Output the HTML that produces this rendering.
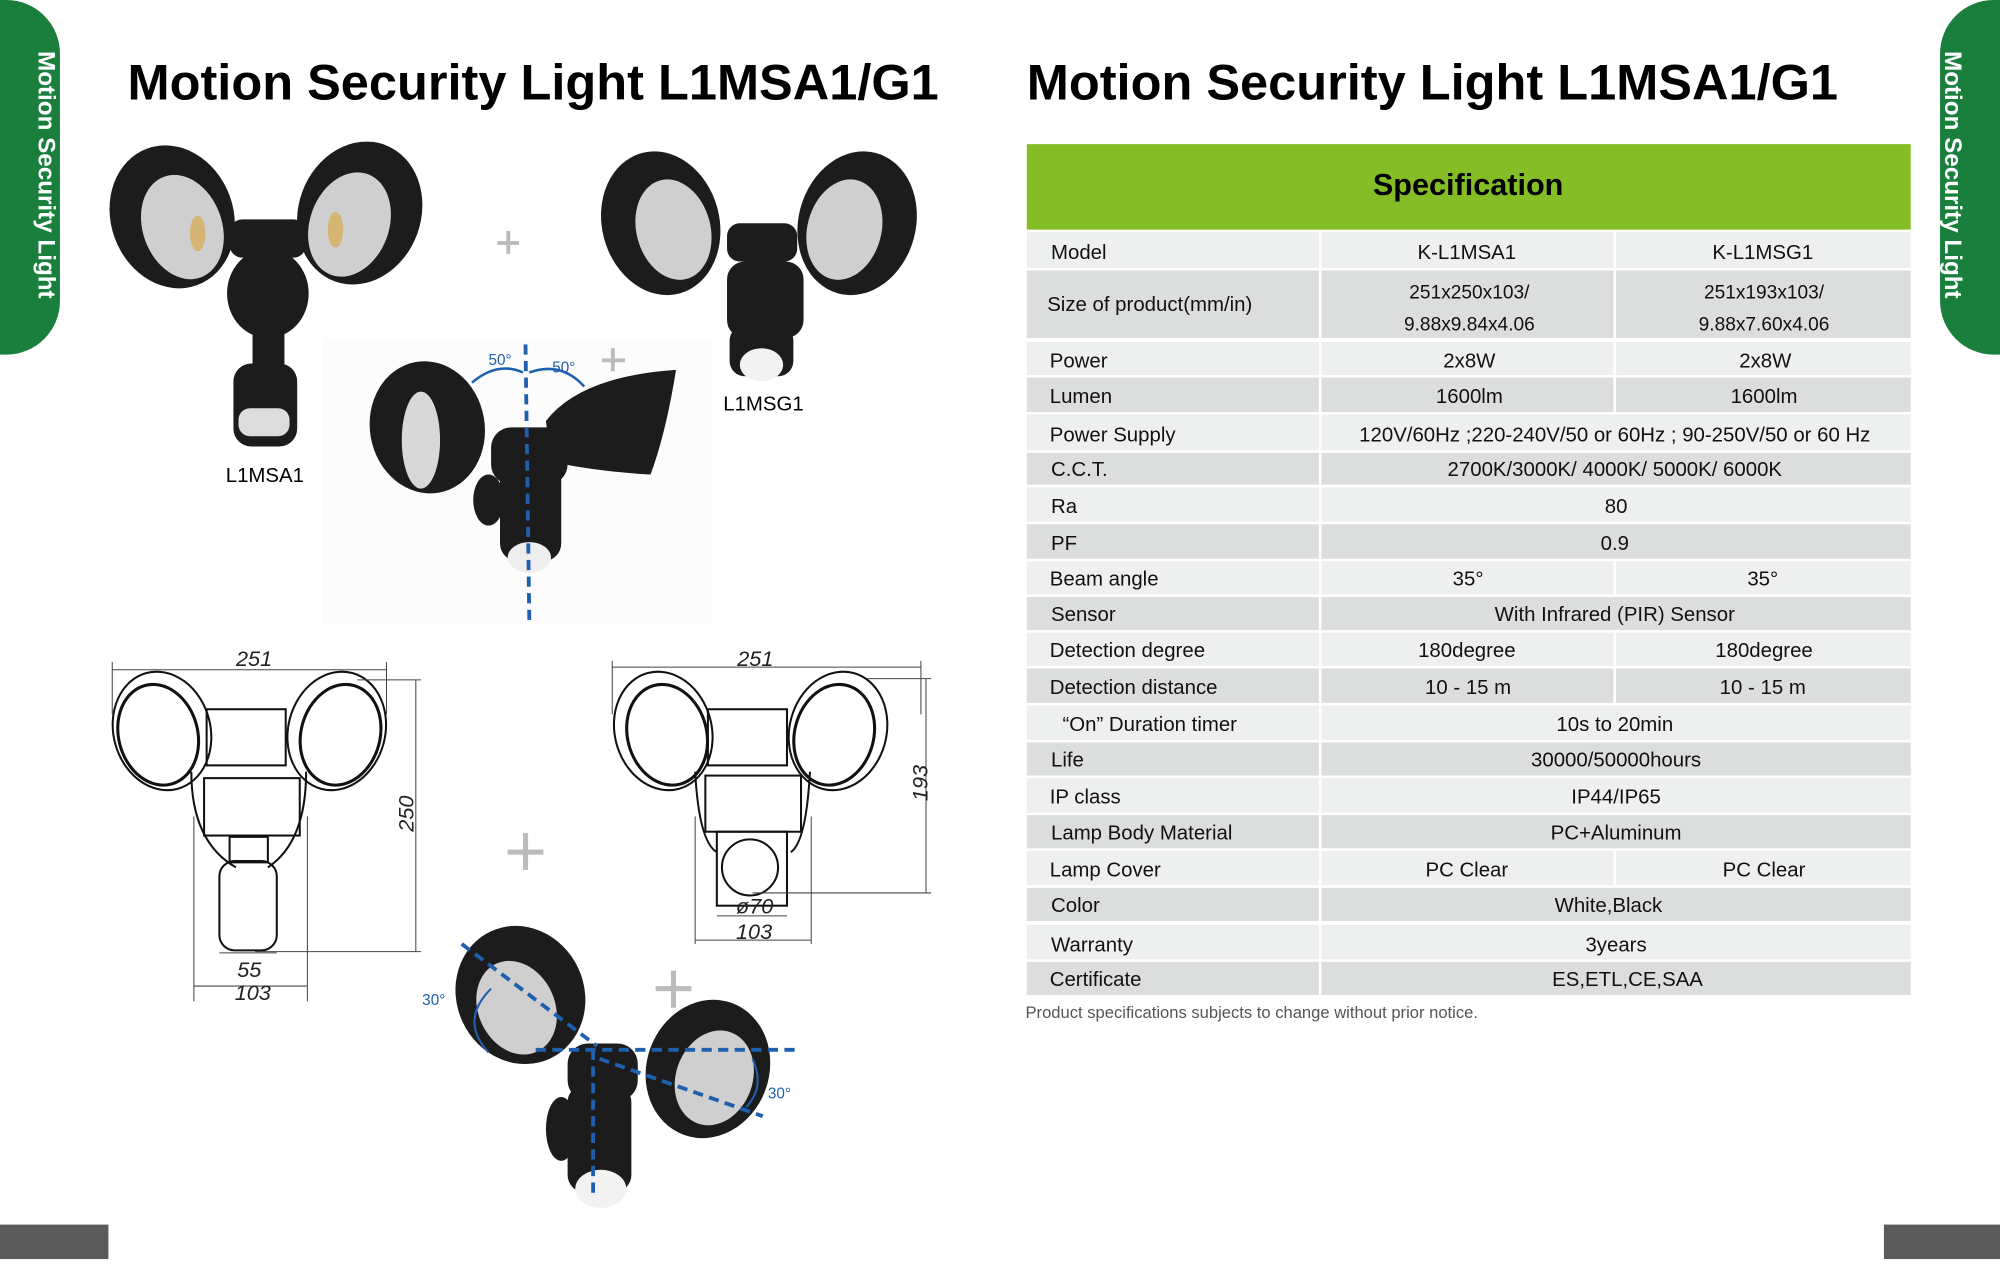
<!DOCTYPE html>
<html><head><meta charset="utf-8"><style>
html,body{margin:0;padding:0;background:#fff;width:2000px;height:1282px;overflow:hidden}
svg{display:block}
text{font-family:"Liberation Sans",Arial,sans-serif}
</style></head><body>
<svg width="2000" height="1282" viewBox="0 0 1568 1005" preserveAspectRatio="none" xmlns="http://www.w3.org/2000/svg">
<!-- side tabs -->
<path d="M0 0 H5 A42 42 0 0 1 47 42 V236 A42 42 0 0 1 5 278 H0Z" fill="#1a7f3c"/>
<text transform="translate(30,40) rotate(90)" font-size="19" font-weight="bold" fill="#fff">Motion Security Light</text>
<path d="M1568 0 H1563 A42 42 0 0 0 1521 42 V236 A42 42 0 0 0 1563 278 H1568Z" fill="#1a7f3c"/>
<text transform="translate(1525,40) rotate(90)" font-size="19" font-weight="bold" fill="#fff">Motion Security Light</text>
<rect x="0" y="960" width="85" height="27" fill="#5b5b5b"/>
<rect x="1477" y="960" width="91" height="27" fill="#5b5b5b"/>
<!-- titles -->
<text x="100" y="78" font-size="39" font-weight="bold" fill="#000" textLength="636" lengthAdjust="spacingAndGlyphs">Motion Security Light L1MSA1/G1</text>
<text x="805" y="78" font-size="39" font-weight="bold" fill="#000" textLength="636" lengthAdjust="spacingAndGlyphs">Motion Security Light L1MSA1/G1</text>

<!-- table -->
<rect x="805" y="113" width="693" height="67" fill="#84bd26"/>
<text x="1151" y="153" font-size="24" font-weight="bold" text-anchor="middle">Specification</text>
<g font-size="16" fill="#111">
<rect x="805" y="182" width="693" height="28" fill="#eeefef"/>
<rect x="805" y="212" width="693" height="53" fill="#dcdddd"/>
<rect x="805" y="268" width="693" height="26" fill="#eeefef"/>
<rect x="805" y="296" width="693" height="27" fill="#dcdddd"/>
<rect x="805" y="325" width="693" height="28" fill="#eeefef"/>
<rect x="805" y="355" width="693" height="25" fill="#dcdddd"/>
<rect x="805" y="382" width="693" height="27" fill="#eeefef"/>
<rect x="805" y="411" width="693" height="27" fill="#dcdddd"/>
<rect x="805" y="440" width="693" height="26" fill="#eeefef"/>
<rect x="805" y="468" width="693" height="26" fill="#dcdddd"/>
<rect x="805" y="496" width="693" height="26" fill="#eeefef"/>
<rect x="805" y="524" width="693" height="27" fill="#dcdddd"/>
<rect x="805" y="553" width="693" height="27" fill="#eeefef"/>
<rect x="805" y="582" width="693" height="26" fill="#dcdddd"/>
<rect x="805" y="610" width="693" height="27" fill="#eeefef"/>
<rect x="805" y="639" width="693" height="26" fill="#dcdddd"/>
<rect x="805" y="667" width="693" height="27" fill="#eeefef"/>
<rect x="805" y="696" width="693" height="26" fill="#dcdddd"/>
<rect x="805" y="725" width="693" height="27" fill="#eeefef"/>
<rect x="805" y="754" width="693" height="26" fill="#dcdddd"/>
<g stroke="#fff" stroke-width="2">
<line x1="1035" y1="182" x2="1035" y2="780"/>
<line x1="1266" y1="182" x2="1266" y2="323"/>
<line x1="1266" y1="440" x2="1266" y2="466"/>
<line x1="1266" y1="496" x2="1266" y2="551"/>
<line x1="1266" y1="667" x2="1266" y2="694"/>
</g>
<g>
<text x="824" y="203">Model</text><text x="1150" y="203" text-anchor="middle">K-L1MSA1</text><text x="1382" y="203" text-anchor="middle">K-L1MSG1</text>
<text x="821" y="244">Size of product(mm/in)</text>
<text x="1152" y="234" text-anchor="middle" font-size="15">251x250x103/</text><text x="1152" y="259" text-anchor="middle" font-size="15">9.88x9.84x4.06</text>
<text x="1383" y="234" text-anchor="middle" font-size="15">251x193x103/</text><text x="1383" y="259" text-anchor="middle" font-size="15">9.88x7.60x4.06</text>
<text x="823" y="288">Power</text><text x="1152" y="288" text-anchor="middle">2x8W</text><text x="1384" y="288" text-anchor="middle">2x8W</text>
<text x="823" y="316">Lumen</text><text x="1152" y="316" text-anchor="middle">1600lm</text><text x="1383" y="316" text-anchor="middle">1600lm</text>
<text x="823" y="346">Power Supply</text><text x="1266" y="346" text-anchor="middle">120V/60Hz ;220-240V/50 or 60Hz ; 90-250V/50 or 60 Hz</text>
<text x="824" y="373">C.C.T.</text><text x="1266" y="373" text-anchor="middle">2700K/3000K/ 4000K/ 5000K/ 6000K</text>
<text x="824" y="402">Ra</text><text x="1267" y="402" text-anchor="middle">80</text>
<text x="824" y="431">PF</text><text x="1266" y="431" text-anchor="middle">0.9</text>
<text x="823" y="459">Beam angle</text><text x="1151" y="459" text-anchor="middle">35°</text><text x="1382" y="459" text-anchor="middle">35°</text>
<text x="824" y="487">Sensor</text><text x="1266" y="487" text-anchor="middle">With Infrared (PIR) Sensor</text>
<text x="823" y="515">Detection degree</text><text x="1150" y="515" text-anchor="middle">180degree</text><text x="1383" y="515" text-anchor="middle">180degree</text>
<text x="823" y="544">Detection distance</text><text x="1151" y="544" text-anchor="middle">10 - 15 m</text><text x="1382" y="544" text-anchor="middle">10 - 15 m</text>
<text x="833" y="573">“On” Duration timer</text><text x="1266" y="573" text-anchor="middle">10s to 20min</text>
<text x="824" y="601">Life</text><text x="1267" y="601" text-anchor="middle">30000/50000hours</text>
<text x="823" y="630">IP class</text><text x="1267" y="630" text-anchor="middle">IP44/IP65</text>
<text x="824" y="658">Lamp Body Material</text><text x="1267" y="658" text-anchor="middle">PC+Aluminum</text>
<text x="823" y="687">Lamp Cover</text><text x="1150" y="687" text-anchor="middle">PC Clear</text><text x="1383" y="687" text-anchor="middle">PC Clear</text>
<text x="824" y="715">Color</text><text x="1261" y="715" text-anchor="middle">White,Black</text>
<text x="824" y="746">Warranty</text><text x="1267" y="746" text-anchor="middle">3years</text>
<text x="823" y="773">Certificate</text><text x="1276" y="773" text-anchor="middle">ES,ETL,CE,SAA</text>
</g>
</g>
<text x="804" y="798" font-size="13" fill="#555">Product specifications subjects to change without prior notice.</text>

<!-- top-left lamp L1MSA1 -->
<g fill="#1c1c1c">
<ellipse cx="135" cy="170" rx="48" ry="57" transform="rotate(-20 135 170)"/>
<ellipse cx="282" cy="167" rx="48" ry="57" transform="rotate(20 282 167)"/>
<rect x="180" y="172" width="60" height="30" rx="10"/>
<ellipse cx="210" cy="230" rx="32" ry="35"/>
<rect x="198" y="255" width="25" height="35"/>
<rect x="183" y="285" width="50" height="65" rx="14"/>
</g>
<ellipse cx="143" cy="178" rx="31" ry="42" transform="rotate(-20 143 178)" fill="#cfcfcf"/>
<ellipse cx="274" cy="176" rx="31" ry="42" transform="rotate(20 274 176)" fill="#cfcfcf"/>
<ellipse cx="155" cy="183" rx="6" ry="14" fill="#d9a84c" opacity=".7"/>
<ellipse cx="263" cy="180" rx="6" ry="14" fill="#d9a84c" opacity=".7"/>
<rect x="187" y="320" width="40" height="22" rx="9" fill="#ddd"/>
<text x="177" y="378" font-size="16">L1MSA1</text>

<!-- top-right lamp L1MSG1 -->
<g fill="#1c1c1c">
<ellipse cx="518" cy="175" rx="46" ry="57" transform="rotate(-15 518 175)"/>
<ellipse cx="672" cy="175" rx="46" ry="57" transform="rotate(15 672 175)"/>
<rect x="570" y="175" width="55" height="30" rx="10"/>
<rect x="570" y="205" width="60" height="60" rx="14"/>
<rect x="572" y="255" width="50" height="40" rx="12"/>
</g>
<ellipse cx="528" cy="180" rx="29" ry="40" transform="rotate(-15 528 180)" fill="#cfcfcf"/>
<ellipse cx="662" cy="180" rx="29" ry="40" transform="rotate(15 662 180)" fill="#cfcfcf"/>
<ellipse cx="597" cy="286" rx="17" ry="13" fill="#f2f2f2"/>
<text x="567" y="322" font-size="16">L1MSG1</text>

<!-- center lamp -->
<rect x="253" y="265" width="305" height="225" fill="#fcfcfc"/>
<g fill="#1c1c1c">
<ellipse cx="335" cy="335" rx="45" ry="52" transform="rotate(-10 335 335)"/>
<path d="M428 330 Q455 295 530 290 Q522 340 510 372 Q470 370 432 362Z"/>
<rect x="385" y="335" width="60" height="45" rx="16"/>
<rect x="392" y="360" width="48" height="80" rx="14"/>
<ellipse cx="383" cy="392" rx="12" ry="20"/>
</g>
<ellipse cx="330" cy="345" rx="15" ry="38" fill="#d8d8d8"/>
<ellipse cx="415" cy="437" rx="17" ry="12" fill="#eee"/>
<line x1="412" y1="270" x2="415" y2="488" stroke="#1f5fae" stroke-width="3" stroke-dasharray="8 5"/>
<path d="M370 300 Q390 283 410 292 M415 292 Q440 283 458 303" stroke="#1f5fae" stroke-width="2" fill="none"/>
<text x="383" y="286" font-size="12" fill="#1f5fae">50°</text>
<text x="433" y="292" font-size="12" fill="#1f5fae">50°</text>

<!-- plus signs -->
<g fill="#bbb">
<rect x="390" y="189" width="17" height="3"/><rect x="397" y="181" width="3" height="18"/>
<rect x="472" y="281" width="18" height="3"/><rect x="479" y="273" width="3" height="18"/>
<rect x="398" y="666" width="28" height="4"/><rect x="410" y="653" width="4" height="29"/>
<rect x="514" y="773" width="28" height="4"/><rect x="526" y="761" width="4" height="29"/>
</g>

<!-- left drawing -->
<g fill="none" stroke="#111" stroke-width="1.6">
<ellipse cx="127" cy="573" rx="38" ry="47" transform="rotate(-15 127 573)"/>
<ellipse cx="124" cy="576" rx="31" ry="40" transform="rotate(-15 124 576)" stroke-width="2.4"/>
<ellipse cx="264" cy="573" rx="38" ry="47" transform="rotate(15 264 573)"/>
<ellipse cx="267" cy="576" rx="31" ry="40" transform="rotate(15 267 576)" stroke-width="2.4"/>
<rect x="162" y="556" width="62" height="44"/>
<rect x="160" y="610" width="75" height="45"/>
<path d="M150 605 Q150 660 185 680 M240 605 Q240 660 210 680"/>
<rect x="172" y="675" width="45" height="70" rx="12"/>
<path d="M180 656 h30 v20 h-30z"/>
</g>
<g stroke="#444" stroke-width="0.8" fill="none">
<line x1="88" y1="525" x2="303" y2="525"/><line x1="88" y1="519" x2="88" y2="560"/><line x1="303" y1="519" x2="303" y2="560"/>
<line x1="326" y1="533" x2="326" y2="746"/><line x1="280" y1="533" x2="330" y2="533"/><line x1="200" y1="746" x2="330" y2="746"/>
<line x1="152" y1="773" x2="241" y2="773"/><line x1="152" y1="640" x2="152" y2="785"/><line x1="241" y1="640" x2="241" y2="785"/>
<line x1="172" y1="747" x2="217" y2="747"/>
</g>
<g font-family="Liberation Serif,serif" font-style="italic" font-size="17" fill="#222">
<text x="185" y="522">251</text>
<text transform="translate(324,652) rotate(-90)">250</text>
<text x="186" y="766">55</text>
<text x="184" y="784">103</text>
</g>

<!-- right drawing -->
<g fill="none" stroke="#111" stroke-width="1.6">
<ellipse cx="520" cy="573" rx="38" ry="47" transform="rotate(-15 520 573)"/>
<ellipse cx="523" cy="576" rx="31" ry="40" transform="rotate(-15 523 576)" stroke-width="2.4"/>
<ellipse cx="657" cy="573" rx="38" ry="47" transform="rotate(15 657 573)"/>
<ellipse cx="654" cy="576" rx="31" ry="40" transform="rotate(15 654 576)" stroke-width="2.4"/>
<rect x="555" y="556" width="62" height="44"/>
<rect x="553" y="608" width="75" height="44"/>
<path d="M545 605 Q548 660 562 668 M635 605 Q632 660 620 668"/>
<rect x="562" y="652" width="55" height="58"/>
<circle cx="588" cy="680" r="22"/>
</g>
<g stroke="#444" stroke-width="0.8" fill="none">
<line x1="480" y1="523" x2="722" y2="523"/><line x1="480" y1="518" x2="480" y2="560"/><line x1="722" y1="518" x2="722" y2="560"/>
<line x1="726" y1="532" x2="726" y2="700"/><line x1="680" y1="532" x2="730" y2="532"/><line x1="590" y1="700" x2="730" y2="700"/>
<line x1="562" y1="718" x2="617" y2="718"/><line x1="545" y1="737" x2="636" y2="737"/><line x1="545" y1="640" x2="545" y2="740"/><line x1="636" y1="640" x2="636" y2="740"/>
</g>
<g font-family="Liberation Serif,serif" font-style="italic" font-size="17" fill="#222">
<text x="578" y="522">251</text>
<text transform="translate(727,628) rotate(-90)">193</text>
<text x="577" y="716">ø70</text>
<text x="577" y="736">103</text>
</g>

<!-- bottom lamp -->
<g fill="#1c1c1c">
<ellipse cx="408" cy="780" rx="50" ry="55" transform="rotate(-25 408 780)"/>
<ellipse cx="555" cy="838" rx="48" ry="55" transform="rotate(20 555 838)"/>
<rect x="445" y="818" width="55" height="45" rx="16"/>
<rect x="445" y="850" width="50" height="85" rx="14"/>
<ellipse cx="440" cy="885" rx="12" ry="25"/>
</g>
<ellipse cx="405" cy="790" rx="30" ry="38" transform="rotate(-25 405 790)" fill="#cfcfcf"/>
<ellipse cx="560" cy="845" rx="30" ry="38" transform="rotate(20 560 845)" fill="#cfcfcf"/>
<ellipse cx="471" cy="932" rx="20" ry="15" fill="#f2f2f2"/>
<g stroke="#1f5fae" stroke-width="3" stroke-dasharray="8 5" fill="none">
<line x1="362" y1="740" x2="468" y2="820"/>
<line x1="420" y1="823" x2="628" y2="823"/>
<line x1="465" y1="823" x2="465" y2="935"/>
<line x1="470" y1="830" x2="598" y2="875"/>
</g>
<path d="M385 775 Q360 800 383 825 M590 830 Q600 852 585 868" stroke="#1f5fae" stroke-width="1.6" fill="none"/>
<text x="331" y="788" font-size="12" fill="#1f5fae">30°</text>
<text x="602" y="861" font-size="12" fill="#1f5fae">30°</text>
</svg>
</body></html>
